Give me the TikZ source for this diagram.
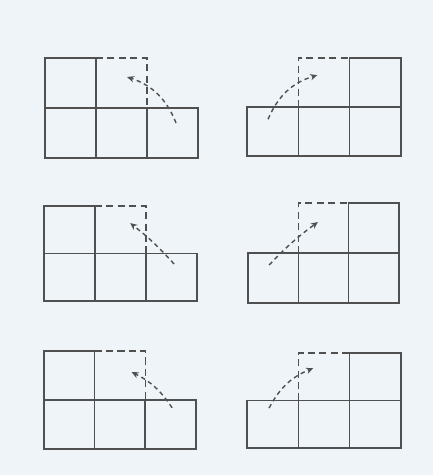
\documentclass[tikz,border=0pt]{standalone}
\usetikzlibrary{arrows.meta}
\definecolor{paper}{HTML}{EEF4F8}
\definecolor{pencil}{HTML}{505050}
\tikzset{
  edge/.style = {draw=pencil, line width=0.9pt, line cap=round},
  fold/.style = {draw=pencil, line width=0.8pt, dash pattern=on 4pt off 2.5pt},
  move/.style = {draw=pencil, line width=0.8pt, dash pattern=on 2.5pt off 2pt,
                 -{Stealth[length=4pt,width=3.6pt]}},
}
% #1 bend angle, #2 start, #3 end (in cell units)
\newcommand{\leftnet}[3]{
  \draw[edge] (0,0) rectangle (3,1);
  \draw[edge] (0,1) -- (0,2) -- (1,2) -- (1,0);
  \draw[edge] (2,0) -- (2,1);
  \draw[fold] (1,2) -- (2,2) -- (2,1);
  \coordinate (s) at (#2);
  \coordinate (e) at (#3);
  \draw[move] (s) to[bend right=#1] (e);
}
\newcommand{\rightnet}[3]{
  \draw[edge] (0,0) rectangle (3,1);
  \draw[edge] (2,0) -- (2,2) -- (3,2) -- (3,1);
  \draw[edge] (1,0) -- (1,1);
  \draw[fold] (1,1) -- (1,2) -- (2,2);
  \coordinate (s) at (#2);
  \coordinate (e) at (#3);
  \draw[move] (s) to[bend left=#1] (e);
}

\begin{document}
\begin{tikzpicture}[x=0.02cm,y=0.02cm]
\fill[paper] (0,0) rectangle (433,475);
\useasboundingbox (0,0) rectangle (433,475);
% top row
\begin{scope}[shift={(45,317)},x=1.02cm,y=1.0cm]
  \leftnet{25}{2.57,0.70}{1.61,1.62}
\end{scope}
\begin{scope}[shift={(247,319)},x=1.026cm,y=0.98cm]
  \rightnet{25}{0.41,0.75}{1.37,1.65}
\end{scope}
% middle row
\begin{scope}[shift={(44,174)},x=1.02cm,y=0.95cm]
  \leftnet{5}{2.55,0.78}{1.69,1.64}
\end{scope}
\begin{scope}[shift={(248,172)},x=1.006cm,y=1.0cm]
  \rightnet{5}{0.42,0.76}{1.39,1.62}
\end{scope}
% bottom row
\begin{scope}[shift={(44,26)},x=1.013cm,y=0.98cm]
  \leftnet{15}{2.53,0.84}{1.73,1.57}
\end{scope}
\begin{scope}[shift={(247,27)},x=1.026cm,y=0.95cm]
  \rightnet{20}{0.43,0.84}{1.29,1.68}
\end{scope}
\end{tikzpicture}
\end{document}
